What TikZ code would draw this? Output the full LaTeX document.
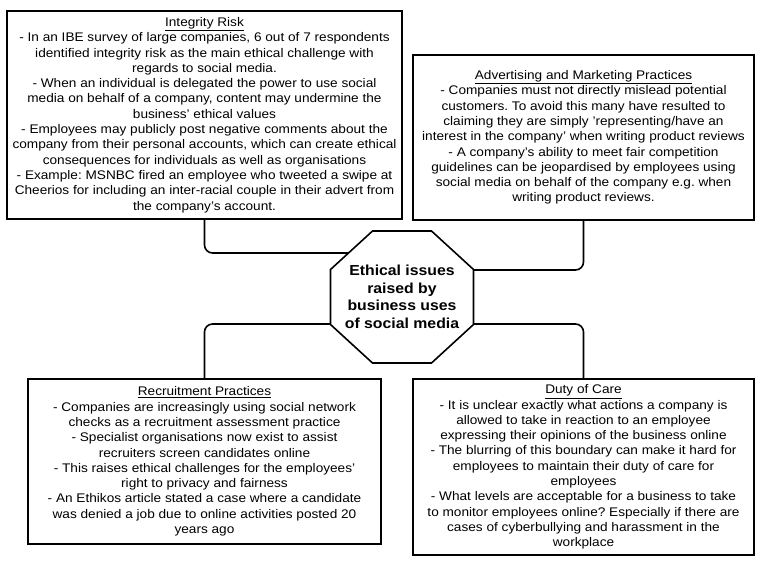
\documentclass[tikz,border=0pt]{standalone}
\usepackage{fontspec}
\setmainfont{Liberation Sans}[FakeStretch=1.09]
\frenchspacing
\usetikzlibrary{calc,backgrounds}
\tikzset{
  infobox/.style={draw,line width=1.6pt,align=center,inner sep=0pt,font=\fontsize{12.5}{15.3}\selectfont},
  hubtext/.style={align=center,inner sep=0pt,font=\fontsize{14.5}{17.5}\selectfont\bfseries},
  hubline/.style={draw,fill=white,line width=1.6pt},
  link/.style={line width=1.6pt,rounded corners=8pt}
}
\begin{document}
\begin{tikzpicture}[x=1pt,y=-1pt]
\useasboundingbox (0,0) rectangle (762,562);
\node[infobox,minimum width=395pt,minimum height=208pt] (integrity) at (204.5,115) {\underline{Integrity Risk}\\
- In an IBE survey of large companies, 6 out of 7 respondents\\
identified integrity risk as the main ethical challenge with\\
regards to social media.\\
- When an individual is delegated the power to use social\\
media on behalf of a company, content may undermine the\\
business' ethical values\\
- Employees may publicly post negative comments about the\\
company from their personal accounts, which can create ethical\\
consequences for individuals as well as organisations\\
- Example: MSNBC fired an employee who tweeted a swipe at\\
Cheerios for including an inter-racial couple in their advert from\\
the company's account.};
\node[infobox,minimum width=341pt,minimum height=165pt] (advert) at (583.5,137.5) {\underline{Advertising and Marketing Practices}\\
- Companies must not directly mislead potential\\
customers. To avoid this many have resulted to\\
claiming they are simply 'representing/have an\\
interest in the company' when writing product reviews\\
- A company's ability to meet fair competition\\
guidelines can be jeopardised by employees using\\
social media on behalf of the company e.g. when\\
writing product reviews.};
\node[infobox,minimum width=353pt,minimum height=165pt] (recruit) at (204.5,461.5) {\underline{Recruitment Practices}\\
- Companies are increasingly using social network\\
checks as a recruitment assessment practice\\
- Specialist organisations now exist to assist\\
recruiters screen candidates online\\
- This raises ethical challenges for the employees'\\
right to privacy and fairness\\
- An Ethikos article stated a case where a candidate\\
was denied a job due to online activities posted 20\\
years ago};
\node[infobox,minimum width=341pt,minimum height=176pt] (care) at (583.5,467) {\underline{Duty of Care}\\
- It is unclear exactly what actions a company is\\
allowed to take in reaction to an employee\\
expressing their opinions of the business online\\
- The blurring of this boundary can make it hard for\\
employees to maintain their duty of care for\\
employees\\
- What levels are acceptable for a business to take\\
to monitor employees online? Especially if there are\\
cases of cyberbullying and harassment in the\\
workplace};
\node[hubtext] (hub) at (402,297) {Ethical issues\\raised by\\business uses\\of social media};
% links to the centre, octagon drawn over their ends
\begin{scope}[on background layer]
\draw[link] (integrity.south) |- ($(hub)+(0,-44)$);
\draw[link] (advert.south) |- ($(hub)+(0,-27)$);
\draw[link] (recruit.north) |- ($(hub)+(0,27)$);
\draw[link] (care.north) |- ($(hub)+(0,27)$);
\path[hubline] ($(hub)+(-29.5,-66)$) -- ++(59,0) -- ++(42,38.5) -- ++(0,55)
  -- ++(-42,38.5) -- ++(-59,0) -- ++(-42,-38.5) -- ++(0,-55) -- cycle;
\end{scope}
\end{tikzpicture}
\end{document}
